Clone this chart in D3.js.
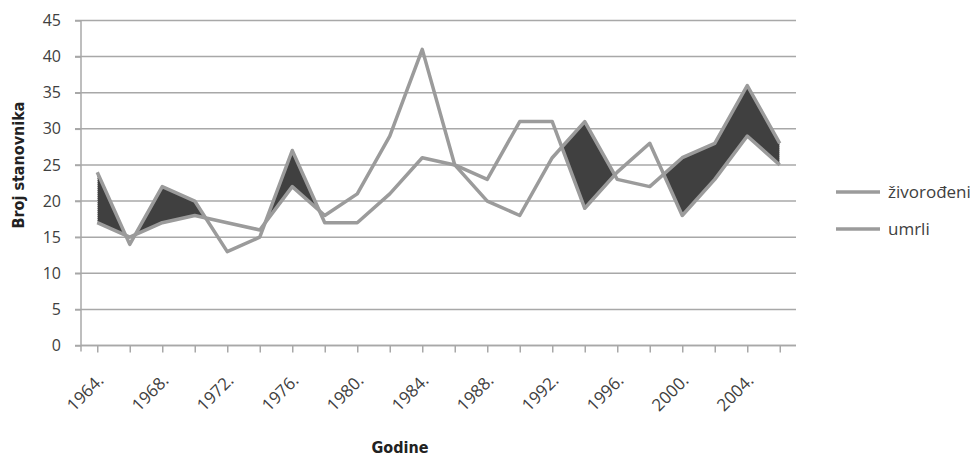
<!DOCTYPE html>
<html lang="sr">
<head>
<meta charset="UTF-8">
<script src="https://d3js.org/d3.v7.min.js"></script>
<style>
  body { margin: 0; background: #fff; }
  svg text { font-family: "Open Sans", sans-serif; }
</style>
</head>
<body>
<div id="chart"></div>
<script>
// data
const years = [1964, 1966, 1968, 1970, 1972, 1974, 1976, 1978, 1980, 1982, 1984,
               1986, 1988, 1990, 1992, 1994, 1996, 1998, 2000, 2002, 2004, 2006];
const umrli = [24, 14, 22, 20, 13, 15, 27, 17, 17, 21, 26, 25, 20, 18, 26, 31, 23, 22, 26, 28, 36, 28];
const zivorodeni = [17, 15, 17, 18, 17, 16, 22, 18, 21, 29, 41, 25, 23, 31, 31, 19, 24, 28, 18, 23, 29, 25];
const labelYears = [1964, 1968, 1972, 1976, 1980, 1984, 1988, 1992, 1996, 2000, 2004];
const yTicks = [0, 5, 10, 15, 20, 25, 30, 35, 40, 45];

const width = 978, height = 457;
const plot = { left: 81, right: 796, top: 20.5, bottom: 345.5 };
const lineColor = '#9b9b9b';
const gridColor = '#a8a8a8';

const svg = d3.select('#chart').append('svg')
    .attr('width', width)
    .attr('height', height);

const x = d3.scalePoint()
    .domain(years)
    .range([plot.left, plot.right])
    .padding(0.5);

const y = d3.scaleLinear()
    .domain([0, 45])
    .range([plot.bottom, plot.top]);

const rows = years.map((yr, i) => ({ year: yr, u: umrli[i], z: zivorodeni[i] }));

// gridlines
svg.append('g')
    .selectAll('line')
    .data(yTicks)
    .enter().append('line')
    .attr('x1', plot.left - 6)
    .attr('x2', plot.right)
    .attr('y1', d => y(d))
    .attr('y2', d => y(d))
    .attr('stroke', gridColor)
    .attr('stroke-width', 1.5);

// y axis
const yAxis = svg.append('g')
    .attr('transform', 'translate(' + plot.left + ',0)')
    .call(d3.axisLeft(y).tickValues(yTicks).tickSize(6).tickPadding(14));
yAxis.select('.domain')
    .attr('d', 'M0,' + plot.top + 'V' + (plot.bottom + 6))
    .attr('stroke', gridColor).attr('stroke-width', 1.5);
yAxis.selectAll('.tick line').attr('stroke', gridColor).attr('stroke-width', 1.5);
yAxis.selectAll('.tick text')
    .attr('font-size', 16)
    .attr('fill', '#404040');

// x axis
const xAxis = svg.append('g')
    .attr('transform', 'translate(0,' + plot.bottom + ')')
    .call(d3.axisBottom(x).tickSize(7).tickSizeOuter(0)
        .tickFormat(d => labelYears.includes(d) ? d + '.' : ''));
xAxis.select('.domain')
    .attr('d', 'M' + plot.left + ',0H' + plot.right)
    .attr('stroke', gridColor).attr('stroke-width', 1.5);
xAxis.selectAll('.tick line').attr('stroke', gridColor).attr('stroke-width', 1.5);
xAxis.selectAll('.tick text')
    .attr('font-size', 17)
    .attr('fill', '#404040')
    .attr('text-anchor', 'end')
    .attr('x', 0)
    .attr('y', 0)
    .attr('dy', 0)
    .attr('transform', 'translate(7,36) rotate(-45)');

// dark fill where umrli is above zivorodeni
const defs = svg.append('defs');
defs.append('clipPath')
    .attr('id', 'aboveZ')
    .append('path')
    .attr('d', d3.area()
        .x(d => x(d.year))
        .y0(plot.top - 20)
        .y1(d => y(d.z))(rows));

svg.append('path')
    .attr('clip-path', 'url(#aboveZ)')
    .attr('d', d3.area()
        .x(d => x(d.year))
        .y0(d => y(d.z))
        .y1(d => y(d.u))(rows))
    .attr('fill', '#404040')
    .attr('stroke', '#ffffff')
    .attr('stroke-width', 1)
    .attr('stroke-dasharray', '1,1');

// lines
const line = key => d3.line().x(d => x(d.year)).y(d => y(d[key]));
['z', 'u'].forEach(key => {
    svg.append('path')
        .attr('d', line(key)(rows))
        .attr('fill', 'none')
        .attr('stroke', lineColor)
        .attr('stroke-width', 3.5)
        .attr('stroke-linejoin', 'round');
});

// axis titles
svg.append('text')
    .attr('transform', 'translate(24,165) rotate(-90)')
    .attr('text-anchor', 'middle')
    .attr('font-size', 16)
    .attr('font-weight', 'bold')
    .attr('fill', '#222')
    .style('font-family', '"DejaVu Sans Condensed", sans-serif')
    .text('Broj stanovnika');

svg.append('text')
    .attr('x', 400)
    .attr('y', 453)
    .attr('text-anchor', 'middle')
    .attr('font-size', 16)
    .attr('font-weight', 'bold')
    .attr('fill', '#222')
    .style('font-family', '"DejaVu Sans Condensed", sans-serif')
    .text('Godine');

// legend
const legend = [['živorođeni', 192], ['umrli', 229]];
const lg = svg.append('g');
legend.forEach(([name, ly]) => {
    lg.append('line')
        .attr('x1', 836).attr('x2', 880)
        .attr('y1', ly).attr('y2', ly)
        .attr('stroke', lineColor)
        .attr('stroke-width', 3.5);
    lg.append('text')
        .attr('x', 888)
        .attr('y', ly + 6)
        .attr('font-size', 17)
        .attr('fill', '#404040')
        .text(name);
});
</script>
</body>
</html>
